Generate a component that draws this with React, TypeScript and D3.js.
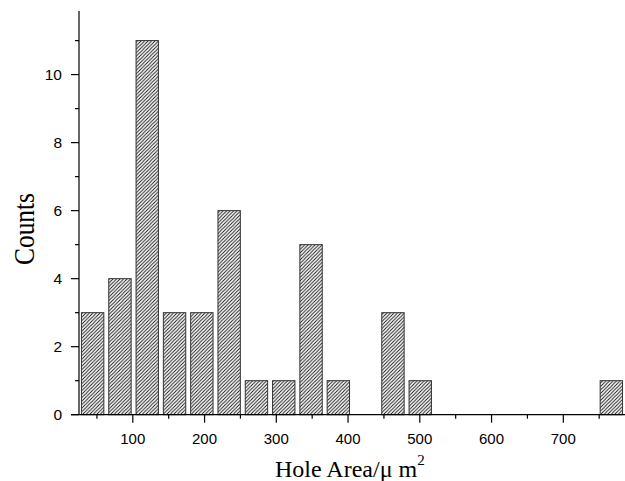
import React from 'react';
import * as d3 from 'd3';

// histogram bins (lower edge of each bin, um^2) and counts
const binStart = 25;
const binWidth = 38.05;
const counts = [3, 4, 11, 3, 3, 6, 1, 1, 5, 1, 0, 3, 1, 0, 0, 0, 0, 0, 0, 1];
const xMajorTicks = [100, 200, 300, 400, 500, 600, 700];
const xMinorTicks = [50, 150, 250, 350, 450, 550, 650, 750];
const yMajorTicks = [0, 2, 4, 6, 8, 10];
const yMinorTicks = [1, 3, 5, 7, 9, 11];

const W = 625;
const H = 481;
const left = 79;
const right = 625;
const top = 11;
const bottom = 414.7;

const App = () => {
  const x = d3.scaleLinear().domain([binStart, binStart + binWidth * counts.length]).range([left, right]);
  const y = d3.scaleLinear().domain([0, 11.87]).range([bottom, top]);

  const bars = counts.map((c, i) => {
    const x0 = binStart + i * binWidth;
    return { x0, x1: x0 + binWidth, c };
  });

  const sans = '"Liberation Sans", Arial, sans-serif';
  const serif = '"Liberation Serif", "Times New Roman", serif';

  return (
    <svg
      width={W}
      height={H}
      style={{ position: 'absolute', left: 0, top: 0, background: '#fff' }}
    >
      <defs>
        <pattern id="hatch" patternUnits="userSpaceOnUse" width="3.5" height="3.5">
          <rect width="3.5" height="3.5" fill="#fff" />
          <path d="M-1,1 l2,-2 M0,3.5 l3.5,-3.5 M2.5,4.5 l2,-2" stroke="#111" strokeWidth="0.9" />
        </pattern>
      </defs>

      {bars
        .filter((b) => b.c > 0)
        .map((b, i) => {
          const bw = x(b.x1) - x(b.x0);
          const w = bw * 0.82;
          const cx = (x(b.x0) + x(b.x1)) / 2;
          return (
            <rect
              key={i}
              x={cx - w / 2}
              y={y(b.c)}
              width={w}
              height={bottom - y(b.c)}
              fill="url(#hatch)"
              stroke="#333"
              strokeWidth={1}
            />
          );
        })}

      {/* axes */}
      <line x1={left} x2={left} y1={top} y2={bottom} stroke="#000" strokeWidth={1.2} />
      <line x1={left - 8} x2={right} y1={bottom} y2={bottom} stroke="#000" strokeWidth={1.2} />

      {yMajorTicks.map((t) => (
        <g key={'ym' + t}>
          <line x1={left - 8} x2={left} y1={y(t)} y2={y(t)} stroke="#000" strokeWidth={1.2} />
          <text
            x={62}
            y={y(t)}
            textAnchor="end"
            dominantBaseline="central"
            fontFamily={sans}
            fontSize={15.5}
          >
            {t}
          </text>
        </g>
      ))}
      {yMinorTicks.map((t) => (
        <line key={'yn' + t} x1={left - 4} x2={left} y1={y(t)} y2={y(t)} stroke="#000" strokeWidth={1.2} />
      ))}

      {xMajorTicks.map((t) => (
        <g key={'xm' + t}>
          <line x1={x(t)} x2={x(t)} y1={bottom} y2={bottom + 8} stroke="#000" strokeWidth={1.2} />
          <text x={x(t)} y={444} textAnchor="middle" fontFamily={sans} fontSize={15}>
            {t}
          </text>
        </g>
      ))}
      {xMinorTicks.map((t) => (
        <line key={'xn' + t} x1={x(t)} x2={x(t)} y1={bottom} y2={bottom + 4} stroke="#000" strokeWidth={1.2} />
      ))}

      <text x={275} y={477} fontFamily={serif} fontSize={24}>
        Hole Area/μ m
        <tspan dy={-12} fontSize={15}>2</tspan>
      </text>

      <text
        transform="translate(34,229) rotate(-90)"
        textAnchor="middle"
        fontFamily={serif}
        fontSize={30}
        textLength={72}
        lengthAdjust="spacingAndGlyphs"
      >
        Counts
      </text>
    </svg>
  );
};

export default App;
